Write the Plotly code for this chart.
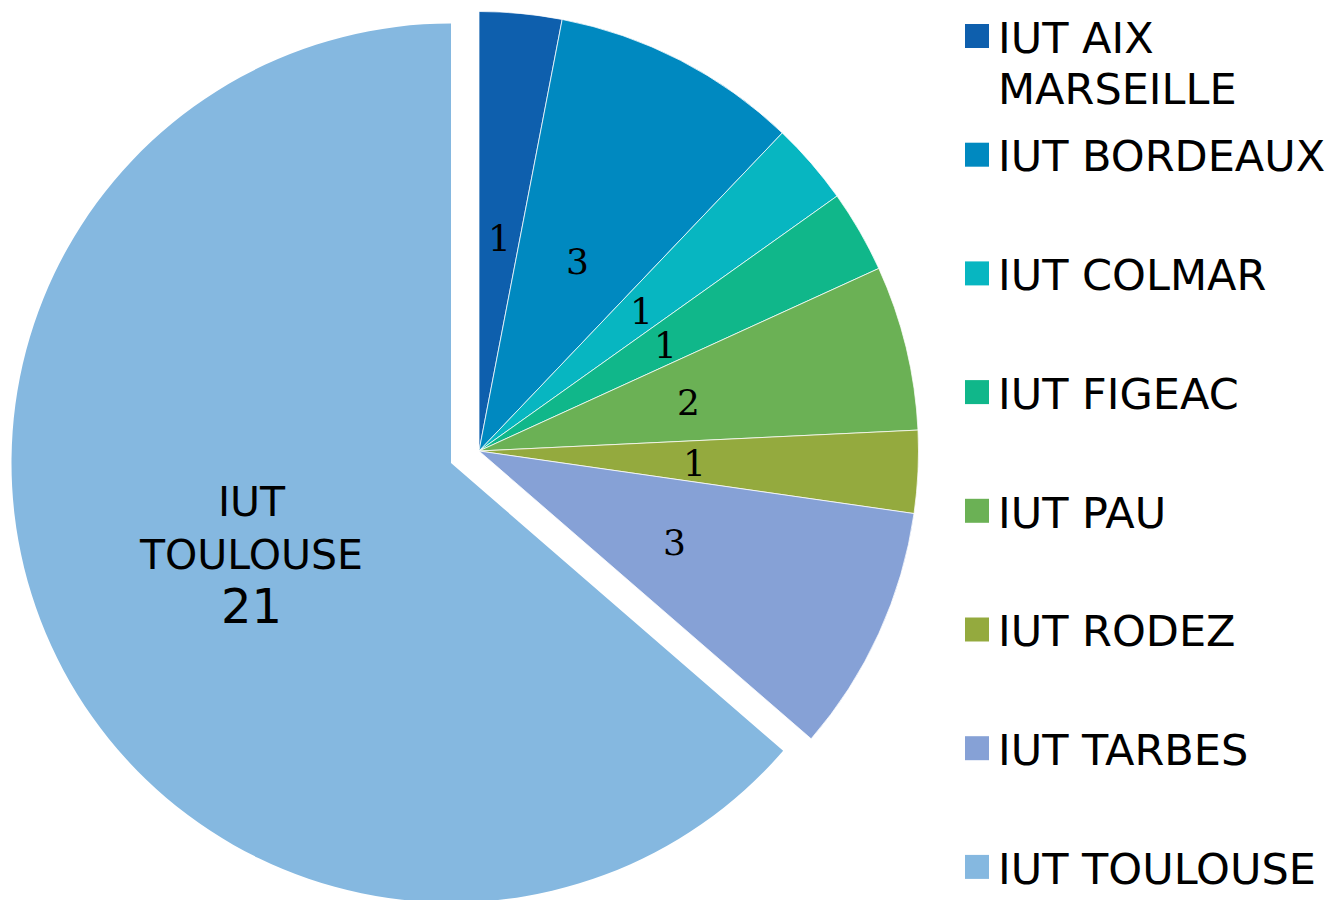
import math
import plotly.graph_objects as go

# ---------------- data ----------------
categories = ["IUT AIX MARSEILLE", "IUT BORDEAUX", "IUT COLMAR", "IUT FIGEAC",
              "IUT PAU", "IUT RODEZ", "IUT TARBES", "IUT TOULOUSE"]
values = [1, 3, 1, 1, 2, 1, 3, 21]
colors = ["#0E5FAD", "#0089C0", "#07B6C1", "#10B78A",
          "#6BB155", "#94AA3E", "#86A1D6", "#85B8E0"]
legend_labels = ["IUT AIX<br>MARSEILLE", "IUT BORDEAUX", "IUT COLMAR", "IUT FIGEAC",
                 "IUT PAU", "IUT RODEZ", "IUT TARBES", "IUT TOULOUSE"]
exploded = "IUT TOULOUSE"

# ---------------- geometry (pixels, page coordinates) ----------------
W, H = 1336, 900
OFF = 8                           # default page body margin
CX, CY, R = 479, 451, 439.5       # main pie
EX, EY, ER = 451, 463, 439.5      # exploded slice
TRANSP = "rgba(0,0,0,0)"


def dom(cx, cy, r):
    cx -= OFF
    cy -= OFF
    return dict(x=[max(0.0, (cx - r) / W), min(1.0, (cx + r) / W)],
                y=[max(0.0, 1 - (cy + r) / H), min(1.0, 1 - (cy - r) / H)])


def px2paper(px, py):
    return (px - OFF) / W, 1 - (py - OFF) / H


fig = go.Figure()

# main pie (all slices except the exploded one)
fig.add_trace(go.Pie(
    labels=categories, values=values, sort=False, direction="clockwise", rotation=0,
    domain=dom(CX, CY, R),
    marker=dict(colors=[TRANSP if c == exploded else col for c, col in zip(categories, colors)],
                line=dict(color="rgba(255,255,255,0.75)",
                          width=[0 if c == exploded else 1 for c in categories])),
    textinfo="none", hoverinfo="label+value", showlegend=False,
))

# exploded slice, drawn from its own shifted centre
fig.add_trace(go.Pie(
    labels=categories, values=values, sort=False, direction="clockwise", rotation=0,
    domain=dom(EX, EY, ER),
    marker=dict(colors=[col if c == exploded else TRANSP for c, col in zip(categories, colors)],
                line=dict(width=0)),
    textinfo="none", hoverinfo="skip", showlegend=False,
))

annotations = []
shapes = []

# data labels
total = sum(values)
cum = 0
for cat, v in zip(categories, values):
    mid = (cum + v / 2) / total * 2 * math.pi
    cum += v
    if cat == exploded:
        rr = 0.5 * ER
        px = EX + rr * math.sin(mid)
        py = EY - rr * math.cos(mid)
        x, y = px2paper(px, py + 2)
        annotations.append(dict(
            x=x, y=y, xref="paper", yref="paper", showarrow=False,
            xanchor="center", yanchor="middle", align="center",
            text=cat.replace(" ", "<br>") + "<br><span style='font-size:48px'>%d</span>" % v,
            font=dict(family="DejaVu Sans", size=41, color="black"),
            borderpad=0,
        ))
    else:
        rr = 0.49 * R
        px = CX + rr * math.sin(mid)
        py = CY - rr * math.cos(mid)
        x, y = px2paper(px, py + 2)
        annotations.append(dict(
            x=x, y=y, xref="paper", yref="paper", showarrow=False,
            xanchor="center", yanchor="middle",
            text=str(v),
            font=dict(family="DejaVu Serif", size=36, color="black"),
            borderpad=0,
        ))

# legend (drawn to match the reference's large square keys and spacing)
LEG_FONT = 43
LEG_LINE = 51
for i, (lab, col) in enumerate(zip(legend_labels, colors)):
    yc = 36 + i * 118.7
    x0, y1 = px2paper(965, yc - 12)
    x1, y0 = px2paper(989, yc + 12)
    shapes.append(dict(type="rect", xref="paper", yref="paper",
                       x0=x0, x1=x1, y0=y0, y1=y1,
                       fillcolor=col, line=dict(width=0)))
    for k, line in enumerate(lab.split("<br>")):
        tx, ty = px2paper(997, yc + k * LEG_LINE - 0.5635 * LEG_FONT)
        annotations.append(dict(
            x=tx, y=ty, xref="paper", yref="paper", showarrow=False,
            xanchor="left", yanchor="top", align="left",
            text=line, font=dict(family="DejaVu Sans", size=LEG_FONT, color="black"),
            borderpad=0,
        ))

fig.update_layout(
    width=W, height=H,
    margin=dict(l=0, r=0, t=0, b=0),
    paper_bgcolor="white", plot_bgcolor="white",
    showlegend=False,
    annotations=annotations,
    shapes=shapes,
)

fig.write_html("out.html", config={"displayModeBar": False})
